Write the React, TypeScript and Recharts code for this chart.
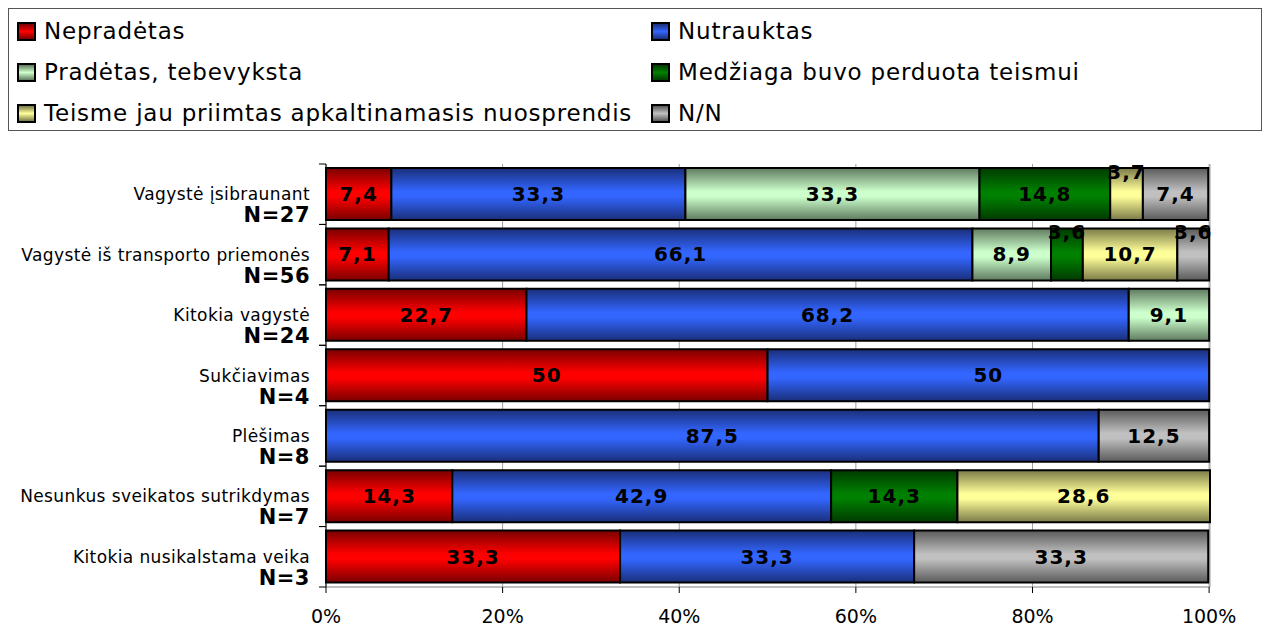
import { BarChart, Bar, XAxis, YAxis, CartesianGrid, LabelList } from "recharts";

const categories = [
  "Vagystė įsibraunant",
  "Vagystė iš transporto priemonės",
  "Kitokia vagystė",
  "Sukčiavimas",
  "Plėšimas",
  "Nesunkus sveikatos sutrikdymas",
  "Kitokia nusikalstama veika",
];
const sampleSizes = [27, 56, 24, 4, 8, 7, 3];

const nepradetas = [7.4, 7.1, 22.7, 50, 0, 14.3, 33.3];
const nutrauktas = [33.3, 66.1, 68.2, 50, 87.5, 42.9, 33.3];
const pradetas = [33.3, 8.9, 9.1, 0, 0, 0, 0];
const medziaga = [14.8, 3.6, 0, 0, 0, 14.3, 0];
const teisme = [3.7, 10.7, 0, 0, 0, 28.6, 0];
const nn = [7.4, 3.6, 0, 0, 12.5, 0, 33.3];

const xTicks = [0, 20, 40, 60, 80, 100];

const series = [
  { key: "nepradetas", name: "Nepradėtas", values: nepradetas, light: "#ff0000", dark: "#7a0000" },
  { key: "nutrauktas", name: "Nutrauktas", values: nutrauktas, light: "#3366ff", dark: "#1a2f7a" },
  { key: "pradetas", name: "Pradėtas, tebevyksta", values: pradetas, light: "#ccffcc", dark: "#5f7a5f" },
  { key: "medziaga", name: "Medžiaga buvo perduota teismui", values: medziaga, light: "#008000", dark: "#003a00" },
  { key: "teisme", name: "Teisme jau priimtas apkaltinamasis nuosprendis", values: teisme, light: "#ffff99", dark: "#7a7a48" },
  { key: "nn", name: "N/N", values: nn, light: "#c0c0c0", dark: "#5a5a5a" },
];

const data = categories.map((name, i) => {
  const row: Record<string, string | number> = { name };
  series.forEach((s) => {
    row[s.key] = s.values[i];
  });
  return row;
});

const FONT = "'DejaVu Sans', Verdana, sans-serif";

// legend order: left column then right column, row by row
const legendOrder = ["nepradetas", "nutrauktas", "pradetas", "medziaga", "teisme", "nn"];

function SegmentLabel(props: any) {
  const { x, y, width, height, value } = props;
  if (!value) return null;
  const small = width < 36;
  const cx = x + width / 2;
  const cy = small ? y + 4 : y + height / 2;
  return (
    <text
      x={cx}
      y={cy}
      textAnchor="middle"
      dominantBaseline="central"
      fontFamily={FONT}
      fontWeight="bold"
      fontSize={20}
      letterSpacing={1}
      fill="#000"
    >
      {String(value).replace(".", ",")}
    </text>
  );
}

function CategoryTick(props: any) {
  const { x, y, payload } = props;
  const half = payload.offset ?? 30;
  const idx = categories.indexOf(payload.value);
  const axisX = x + 8;
  return (
    <g>
      <line x1={axisX - 7} x2={axisX} y1={y - half} y2={y - half} stroke="#000" />
      <line x1={axisX - 7} x2={axisX} y1={y + half} y2={y + half} stroke="#000" />
      <text
        x={x - 8}
        y={y + 6}
        textAnchor="end"
        fontFamily={FONT}
        fontSize={17}
        letterSpacing={0.4}
        fill="#000"
      >
        {payload.value}
      </text>
      <text
        x={x - 8}
        y={y + 28}
        textAnchor="end"
        fontFamily={FONT}
        fontSize={21}
        fontWeight="bold"
        letterSpacing={0.5}
        fill="#000"
      >
        {`N=${sampleSizes[idx]}`}
      </text>
    </g>
  );
}

function Legend() {
  return (
    <div
      style={{
        position: "absolute",
        left: 8,
        top: 8,
        width: 1252,
        height: 121,
        border: "1px solid #555",
        fontFamily: FONT,
        fontSize: 23,
        letterSpacing: 0.8,
        color: "#000",
      }}
    >
      {legendOrder.map((k, i) => {
        const s = series.find((q) => q.key === k)!;
        const col = i % 2;
        const row = Math.floor(i / 2);
        return (
          <div
            key={k}
            style={{
              position: "absolute",
              left: col === 0 ? 8 : 642,
              top: 7 + row * 41,
              display: "flex",
              alignItems: "center",
              height: 30,
              whiteSpace: "nowrap",
            }}
          >
            <span
              style={{
                display: "inline-block",
                width: 15,
                height: 15,
                border: "2px solid #000",
                marginRight: 8,
                background: `linear-gradient(to bottom, ${s.dark}, ${s.light} 50%, ${s.dark})`,
              }}
            />
            {s.name}
          </div>
        );
      })}
    </div>
  );
}

export default function App() {
  return (
    <div style={{ position: "absolute", left: 0, top: 0, width: 1272, height: 630, background: "#fff" }}>
      <Legend />
      <BarChart
        width={1272}
        height={630}
        data={data}
        layout="vertical"
        margin={{ top: 164, right: 62, bottom: 8, left: 10 }}
        barCategoryGap="6.6%"
        style={{ fontFamily: FONT }}
      >
        <defs>
          {series.map((s) => (
            <linearGradient key={s.key} id={`grad-${s.key}`} x1="0" y1="0" x2="0" y2="1">
              <stop offset="0%" stopColor={s.dark} />
              <stop offset="45%" stopColor={s.light} />
              <stop offset="55%" stopColor={s.light} />
              <stop offset="100%" stopColor={s.dark} />
            </linearGradient>
          ))}
        </defs>
        <CartesianGrid horizontal={false} stroke="#a0a0a0" />
        <XAxis
          type="number"
          domain={[0, 100]}
          ticks={xTicks}
          tickFormatter={(v) => `${v}%`}
          height={35}
          tickSize={6}
          tickMargin={17}
          axisLine={{ stroke: "#808080" }}
          tickLine={{ stroke: "#000" }}
          tick={{ fontSize: 19, fill: "#000", fontFamily: FONT }}
          interval={0}
        />
        <YAxis
          type="category"
          dataKey="name"
          width={316}
          axisLine={{ stroke: "#000" }}
          tickLine={false}
          tick={<CategoryTick />}
          interval={0}
        />
        {series.map((s) => (
          <Bar
            key={s.key}
            dataKey={s.key}
            name={s.name}
            stackId="a"
            fill={`url(#grad-${s.key})`}
            stroke="#000"
            strokeWidth={2}
            isAnimationActive={false}
          >
            <LabelList dataKey={s.key} content={<SegmentLabel />} />
          </Bar>
        ))}
      </BarChart>
    </div>
  );
}
